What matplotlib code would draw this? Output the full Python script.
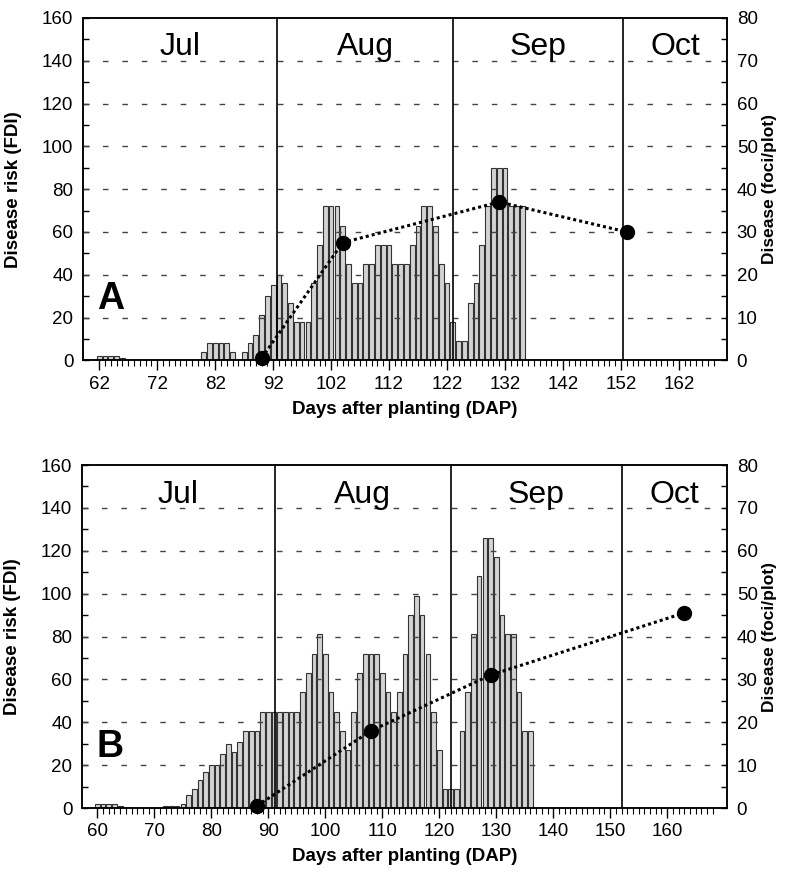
import matplotlib
matplotlib.use("Agg")
import matplotlib.pyplot as plt
import numpy as np
from matplotlib.ticker import FixedLocator, MultipleLocator

plt.rcParams['font.family'] = ['Liberation Sans', 'DejaVu Sans']

# ---------------- Data ----------------
# Panel A: daily disease risk (FDI), days after planting
days_a = list(range(62, 136))
fdi_a = [2, 2, 2, 2, 0.9,                     # 62-66
         0, 0, 0, 0, 0, 0, 0, 0, 0, 0, 0, 0, 0,  # 67-79
         4, 8, 8, 8, 8, 4, 0, 4, 8, 12,       # 80-89
         21, 30, 35, 40, 36, 27, 18, 18, 18, 36,  # 90-99
         54, 72, 72, 72, 63, 45, 36, 36, 45, 45,  # 100-109
         54, 54, 54, 45, 45, 45, 54, 63, 72, 72,  # 110-119
         63, 45, 36, 18, 9, 9, 27, 36, 54, 72,    # 120-129
         90, 90, 90, 72, 72, 72]                  # 130-135
# Panel A: observed disease (foci/plot)
dis_days_a = [90, 104, 131, 153]
dis_a = [0.5, 27.5, 37, 30]

# Panel B
days_b = list(range(60, 137))
fdi_b = [2, 2, 2, 2, 1,                       # 60-64
         0, 0, 0, 0, 0, 0, 0,                 # 65-71
         1, 1, 1, 2, 6, 9, 13, 17,            # 72-79
         20, 20, 25, 30, 26, 31, 36, 36, 36, 45,  # 80-89
         45, 45, 45, 45, 45, 45, 54, 63, 72, 81,  # 90-99
         72, 54, 45, 36, 27, 45, 63, 72, 72, 72,  # 100-109
         63, 54, 45, 54, 72, 90, 99, 90, 72, 45,  # 110-119
         27, 9, 9, 9, 36, 54, 81, 108, 126, 126,  # 120-129
         117, 90, 81, 81, 54, 36, 36]             # 130-136
dis_days_b = [88, 108, 129, 163]
dis_b = [0.5, 18, 31, 45.5]

months = ["Jul", "Aug", "Sep", "Oct"]
month_bounds_a = [92.6, 123.1, 152.4]
month_bounds_b = [91.1, 122.1, 152.0]
xticks_a = list(range(62, 163, 10))
xticks_b = list(range(60, 161, 10))
yticks_left = list(range(0, 161, 20))
yticks_right = list(range(0, 81, 10))

W, H = 786, 872
fig = plt.figure(figsize=(W / 100, H / 100), dpi=100)

def px_axes(l, r, t, b):
    return [l / W, 1 - b / H, (r - l) / W, (b - t) / H]

TICK_FS = 13.5
LAB_FS = 13.5

def make_panel(rect, days, fdi, ddays, dis, bounds, xticks, xlim, letter):
    ax = fig.add_axes(rect)
    ax.bar(days, fdi, width=0.82, color='#d3d3d3', edgecolor='#333333',
           linewidth=0.8, zorder=1)
    ax.set_xlim(*xlim)
    ax.set_ylim(0, 160)
    ax.set_yticks(yticks_left)
    ax.yaxis.set_minor_locator(MultipleLocator(10))
    ax.set_xticks(xticks)
    ax.xaxis.set_minor_locator(FixedLocator(np.arange(xticks[0], 169, 1)))
    ax.tick_params(axis='x', which='major', direction='out', length=7,
                   width=1, labelsize=TICK_FS, pad=4, top=False)
    ax.tick_params(axis='x', which='minor', direction='out', length=4,
                   width=0.8, top=False)
    ax.tick_params(axis='y', which='both', direction='in', length=4.5,
                   width=1, labelsize=TICK_FS, pad=7, right=False)
    for g in yticks_left[1:-1]:
        ax.axhline(g, color='#444444', lw=1.0, ls=(0, (4, 10)), zorder=2.5)
    for b in bounds:
        ax.axvline(b, color='black', lw=1.2, zorder=3)
    edges = [xlim[0]] + bounds + [xlim[1]]
    for i, m in enumerate(months):
        ax.text((edges[i] + edges[i + 1]) / 2, 142.5, m, ha='center',
                va='baseline', fontsize=23)
    ax.text(0.022, 0.15, letter, transform=ax.transAxes, ha='left',
            va='baseline', fontsize=27, fontweight='bold')
    for s in ax.spines.values():
        s.set_linewidth(1.1)
    ax.set_ylabel("Disease risk (FDI)", fontsize=LAB_FS, fontweight='bold')
    ax.yaxis.set_label_coords(-0.094, 0.5)
    ax.set_xlabel("Days after planting (DAP)", fontsize=LAB_FS,
                  fontweight='bold')
    ax.xaxis.set_label_coords(0.5, -0.118)

    ax2 = ax.twinx()
    ax2.plot(ddays, dis, color='black', lw=2.2, ls=(0, (1, 1)),
             marker='o', markersize=10, zorder=5, clip_on=False)
    ax2.set_ylim(0, 80)
    ax2.set_yticks(yticks_right)
    ax2.yaxis.set_minor_locator(MultipleLocator(5))
    ax2.tick_params(axis='y', which='both', direction='in', length=4.5,
                    width=1, labelsize=TICK_FS, pad=7)
    for s in ax2.spines.values():
        s.set_linewidth(1.1)
    ax2.set_ylabel("Disease (foci/plot)", fontsize=12.5, fontweight='bold',
                   va='center')
    ax2.yaxis.set_label_coords(1.066, 0.5)
    return ax, ax2

make_panel(px_axes(83, 727, 18, 360.3), days_a, fdi_a, dis_days_a, dis_a,
           month_bounds_a, xticks_a, (59.2, 170.3), "A")
make_panel(px_axes(82, 727, 465, 808), days_b, fdi_b, dis_days_b, dis_b,
           month_bounds_b, xticks_b, (57.3, 170.5), "B")

fig.savefig("out.png", dpi=100)
